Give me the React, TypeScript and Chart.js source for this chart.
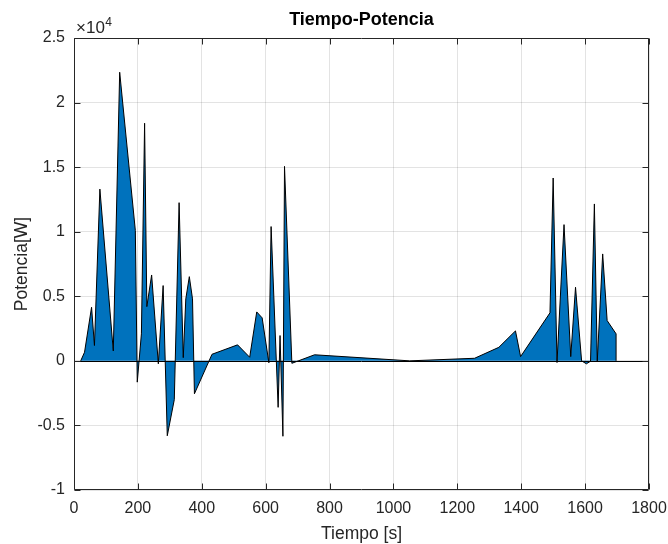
import { useEffect, useRef } from 'react';
import { Chart, registerables } from 'chart.js';

Chart.register(...registerables);

const tiempo = [
  21, 33, 55, 64, 81, 123, 143, 192, 198, 211, 221, 228, 243, 264, 279, 292, 314, 329, 342, 350,
  361, 371, 377, 432, 512, 550, 572, 589, 610, 617, 639, 645, 654, 659, 682, 753, 1051, 1254, 1330, 1382,
  1398, 1490, 1500, 1512, 1534, 1555, 1570, 1589, 1604, 1617, 1629, 1638, 1655, 1669, 1697,
];
const potencia = [
  0, 670, 4150, 1190, 13300, 770, 22350, 10100, -1650, 2090, 18400, 4200, 6650, -230, 5830, -5800, -3000, 12250, 250, 4800,
  6520, 4800, -2550, 510, 1240, 280, 3790, 3330, -150, 10400, -3600, 1960, -5840, 15060, -190, 470, 0, 200, 1050, 2320,
  330, 3720, 14160, -130, 10550, 330, 5700, 0, -230, -30, 12150, -50, 8280, 3120, 2090,
];

const xMin = 0;
const xMax = 1800;
const xStep = 200;
const yMin = -10000;
const yMax = 25000;
const yStep = 5000;

const titulo = 'Tiempo-Potencia';
const etiquetaX = 'Tiempo [s]';
const etiquetaY = 'Potencia[W]';
const exponente = '4';

const FONT = "'Liberation Sans', Arial, Helvetica, sans-serif";
const AXIS_COLOR = '#262626';

const framePlugin = {
  id: 'matlabFrame',
  afterDatasetsDraw(chart: any) {
    const { ctx, chartArea, scales } = chart;
    const { left, right, top, bottom } = chartArea;
    const xs = scales.x;
    const ys = scales.y;
    ctx.save();

    // baseline at zero
    const y0 = Math.round(ys.getPixelForValue(0)) + 0.5;
    ctx.strokeStyle = '#000000';
    ctx.lineWidth = 1;
    ctx.beginPath();
    ctx.moveTo(left, y0);
    ctx.lineTo(right, y0);
    ctx.stroke();

    // closing vertical edges of the area
    const n = tiempo.length;
    ctx.beginPath();
    ctx.moveTo(xs.getPixelForValue(tiempo[0]), ys.getPixelForValue(potencia[0]));
    ctx.lineTo(xs.getPixelForValue(tiempo[0]), ys.getPixelForValue(0));
    ctx.moveTo(xs.getPixelForValue(tiempo[n - 1]), ys.getPixelForValue(potencia[n - 1]));
    ctx.lineTo(xs.getPixelForValue(tiempo[n - 1]), ys.getPixelForValue(0));
    ctx.stroke();

    // box
    ctx.strokeStyle = AXIS_COLOR;
    ctx.lineWidth = 1;
    const L = Math.round(left) + 0.5;
    const R = Math.round(right) - 0.5;
    const T = Math.round(top) + 0.5;
    const B = Math.round(bottom) - 0.5;
    ctx.beginPath();
    ctx.rect(L, T, R - L, B - T);
    ctx.stroke();

    // inward ticks
    const tl = 6;
    ctx.beginPath();
    for (let v = xMin; v <= xMax; v += xStep) {
      const px = Math.round(xs.getPixelForValue(v)) + 0.5;
      ctx.moveTo(px, B);
      ctx.lineTo(px, B - tl);
      ctx.moveTo(px, T);
      ctx.lineTo(px, T + tl);
    }
    for (let v = yMin; v <= yMax; v += yStep) {
      const py = Math.round(ys.getPixelForValue(v)) + 0.5;
      ctx.moveTo(L, py);
      ctx.lineTo(L + tl, py);
      ctx.moveTo(R, py);
      ctx.lineTo(R - tl, py);
    }
    ctx.stroke();

    // texts
    ctx.fillStyle = '#000000';
    ctx.font = `bold 18px ${FONT}`;
    ctx.textAlign = 'center';
    ctx.textBaseline = 'middle';
    ctx.fillText(titulo, (left + right) / 2, 20);

    ctx.fillStyle = AXIS_COLOR;
    ctx.font = `17.5px ${FONT}`;
    ctx.fillText(etiquetaX, (left + right) / 2, 534);

    ctx.save();
    ctx.translate(22, (top + bottom) / 2);
    ctx.rotate(-Math.PI / 2);
    ctx.fillText(etiquetaY, 0, 0);
    ctx.restore();

    ctx.textAlign = 'left';
    ctx.textBaseline = 'alphabetic';
    ctx.font = `17px ${FONT}`;
    const base = '\u00d710';
    ctx.fillText(base, left + 2, 32.5);
    const w = ctx.measureText(base).width;
    ctx.font = `12px ${FONT}`;
    ctx.fillText(exponente, left + 2 + w + 0.5, 26);

    ctx.restore();
  },
};

export default function App() {
  const ref = useRef<HTMLCanvasElement | null>(null);

  useEffect(() => {
    if (!ref.current) return;
    const points = tiempo.map((t, i) => ({ x: t, y: potencia[i] }));
    const chart = new Chart(ref.current, {
      type: 'line',
      data: {
        datasets: [
          {
            data: points,
            borderColor: '#000000',
            borderWidth: 1,
            backgroundColor: '#0072BD',
            fill: 'origin',
            pointRadius: 0,
            tension: 0,
          },
        ],
      },
      options: {
        animation: false,
        responsive: true,
        maintainAspectRatio: false,
        layout: { padding: { top: 38, right: 19, left: 0, bottom: 0 } },
        plugins: {
          legend: { display: false },
          title: { display: false },
          tooltip: { enabled: false },
        },
        scales: {
          x: {
            type: 'linear',
            min: xMin,
            max: xMax,
            afterFit: (s: any) => {
              s.height = 54;
              s.paddingLeft = 0;
              s.paddingRight = 0;
            },
            ticks: {
              stepSize: xStep,
              autoSkip: false,
              maxRotation: 0,
              padding: 9,
              color: AXIS_COLOR,
              font: { family: FONT, size: 16 },
              callback: (v: any) => String(v),
            },
            grid: { color: 'rgba(38,38,38,0.13)', drawTicks: false, lineWidth: 1 },
            border: { display: false },
          },
          y: {
            type: 'linear',
            min: yMin,
            max: yMax,
            afterFit: (s: any) => {
              s.width = 74;
              s.paddingTop = 0;
              s.paddingBottom = 0;
            },
            ticks: {
              stepSize: yStep,
              autoSkip: false,
              padding: 9,
              color: AXIS_COLOR,
              font: { family: FONT, size: 16 },
              callback: (v: any) => String(Number(v) / 10000),
            },
            grid: { color: 'rgba(38,38,38,0.13)', drawTicks: false, lineWidth: 1 },
            border: { display: false },
          },
        },
      },
      plugins: [framePlugin],
    });
    return () => chart.destroy();
  }, []);

  return (
    <div style={{ position: 'absolute', left: 0, top: 0, width: 668, height: 544, background: '#ffffff' }}>
      <canvas ref={ref} />
    </div>
  );
}
